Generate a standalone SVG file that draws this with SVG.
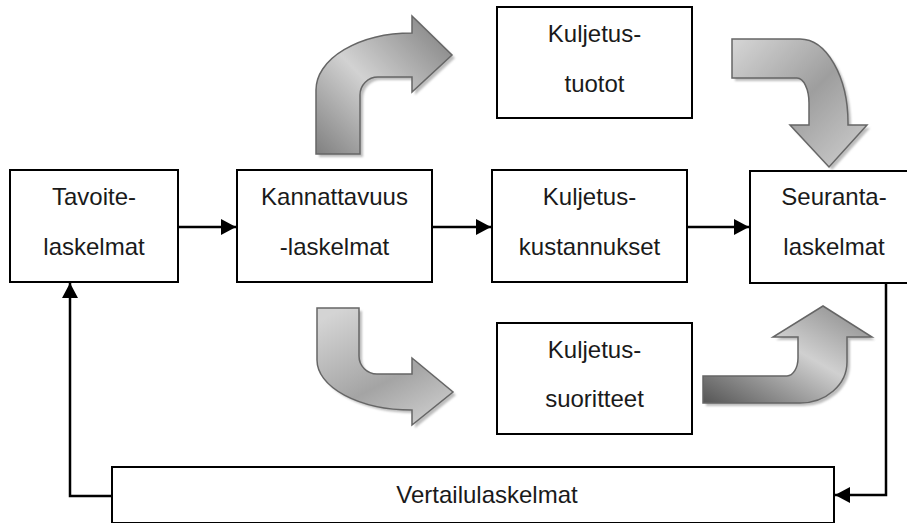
<svg xmlns="http://www.w3.org/2000/svg" width="907" height="523" viewBox="0 0 907 523">
  <style>
    .box { fill: #ffffff; stroke: #000000; stroke-width: 2; }
    .lbl { font-family: "Liberation Sans", Arial, sans-serif; font-size: 24px; fill: #1a1a1a; text-anchor: middle; }
    .conn { fill: none; stroke: #000000; stroke-width: 2.5; }
    .flow { stroke: #666666; stroke-width: 1.5; stroke-linejoin: miter; }
    .shade { fill: #bdbdbd; filter: url(#soft); }
  </style>
  <defs>
    <marker id="head" markerUnits="userSpaceOnUse" markerWidth="15" markerHeight="16" refX="15" refY="8" orient="auto">
      <path d="M0,0 L15,8 L0,16 Z" fill="#000000"/>
    </marker>
    <filter id="soft" x="-10%" y="-10%" width="120%" height="120%">
      <feGaussianBlur stdDeviation="0.8"/>
    </filter>
    <linearGradient id="g1" x1="0" y1="1" x2="1" y2="0">
      <stop offset="0" stop-color="#808080"/>
      <stop offset="0.45" stop-color="#d2d2d2"/>
      <stop offset="1" stop-color="#7a7a7a"/>
    </linearGradient>
    <linearGradient id="g2" x1="0" y1="0" x2="1" y2="1">
      <stop offset="0" stop-color="#d6d6d6"/>
      <stop offset="0.5" stop-color="#9e9e9e"/>
      <stop offset="1" stop-color="#d0d0d0"/>
    </linearGradient>
    <linearGradient id="g3" x1="0.2" y1="0" x2="0.8" y2="1">
      <stop offset="0" stop-color="#d4d4d4"/>
      <stop offset="0.6" stop-color="#a4a4a4"/>
      <stop offset="1" stop-color="#cccccc"/>
    </linearGradient>
    <linearGradient id="g4" x1="0" y1="1" x2="1" y2="0">
      <stop offset="0" stop-color="#555555"/>
      <stop offset="0.55" stop-color="#d0d0d0"/>
      <stop offset="1" stop-color="#858585"/>
    </linearGradient>
    <path id="bend1" d="M 316 154 L 316 90 A 96 57 0 0 1 412 33 L 412 16 L 452 55 L 412 92 L 412 77 L 378 77 A 18 18 0 0 0 360 95 L 360 154 Z"/>
    <path id="bend2" d="M 732 39 L 800 39 A 48 84 0 0 1 848 123 L 848 125 L 867 125 L 829 167 L 790 125 L 809 125 L 809 103 A 12 25 0 0 0 797 78 L 732 78 Z"/>
    <path id="bend3" d="M 317 308 L 359 308 L 359 356 A 18 18 0 0 0 377 374 L 412 374 L 412 358 L 453 392 L 412 425 L 412 410 A 95 50 0 0 1 317 360 Z"/>
    <path id="bend4" d="M 703 376 L 787 376 A 11 18 0 0 0 798 358 L 798 337 L 773 337 L 823 306 L 872 337 L 847 337 L 847 362 A 47 41 0 0 1 800 403 L 703 403 Z"/>
  </defs>

  <rect width="907" height="523" fill="#ffffff"/>

  <!-- curved block arrows -->
  <g id="flow-arrows">
    <use href="#bend1" class="shade" transform="translate(3,3)"/>
    <use href="#bend1" class="flow" fill="url(#g1)"/>
    <use href="#bend2" class="shade" transform="translate(3,3)"/>
    <use href="#bend2" class="flow" fill="url(#g2)"/>
    <use href="#bend3" class="shade" transform="translate(3,3)"/>
    <use href="#bend3" class="flow" fill="url(#g3)"/>
    <use href="#bend4" class="shade" transform="translate(3,3)"/>
    <use href="#bend4" class="flow" fill="url(#g4)"/>
  </g>

  <!-- connectors -->
  <g id="connectors">
    <path class="conn" d="M 178 227 L 236 227" marker-end="url(#head)"/>
    <path class="conn" d="M 432 227 L 491 227" marker-end="url(#head)"/>
    <path class="conn" d="M 687 227 L 749 227" marker-end="url(#head)"/>
    <path class="conn" d="M 886 283 L 886 495 L 835 495" marker-end="url(#head)"/>
    <path class="conn" d="M 112 496 L 70 496 L 70 283" marker-end="url(#head)"/>
  </g>

  <g id="tavoite">
    <rect class="box" x="10" y="170" width="168" height="112"/>
    <text class="lbl" x="94" y="205">Tavoite-</text>
    <text class="lbl" x="94" y="255">laskelmat</text>
  </g>

  <g id="kannattavuus">
    <rect class="box" x="237" y="170" width="195" height="112"/>
    <text class="lbl" x="334.5" y="205">Kannattavuus</text>
    <text class="lbl" x="334.5" y="255">-laskelmat</text>
  </g>

  <g id="kustannukset">
    <rect class="box" x="492" y="170" width="195" height="112"/>
    <text class="lbl" x="589.5" y="205">Kuljetus-</text>
    <text class="lbl" x="589.5" y="255">kustannukset</text>
  </g>

  <g id="seuranta">
    <rect class="box" x="750" y="171" width="170" height="112"/>
    <text class="lbl" x="834" y="205">Seuranta-</text>
    <text class="lbl" x="834" y="255">laskelmat</text>
  </g>

  <g id="tuotot">
    <rect class="box" x="497" y="7" width="195" height="111"/>
    <text class="lbl" x="594.5" y="42">Kuljetus-</text>
    <text class="lbl" x="594.5" y="92">tuotot</text>
  </g>

  <g id="suoritteet">
    <rect class="box" x="497" y="323" width="195" height="111"/>
    <text class="lbl" x="594.5" y="358">Kuljetus-</text>
    <text class="lbl" x="594.5" y="407">suoritteet</text>
  </g>

  <g id="vertailu">
    <rect class="box" x="112" y="467" width="722" height="56"/>
    <text class="lbl" x="487" y="503">Vertailulaskelmat</text>
  </g>
</svg>
